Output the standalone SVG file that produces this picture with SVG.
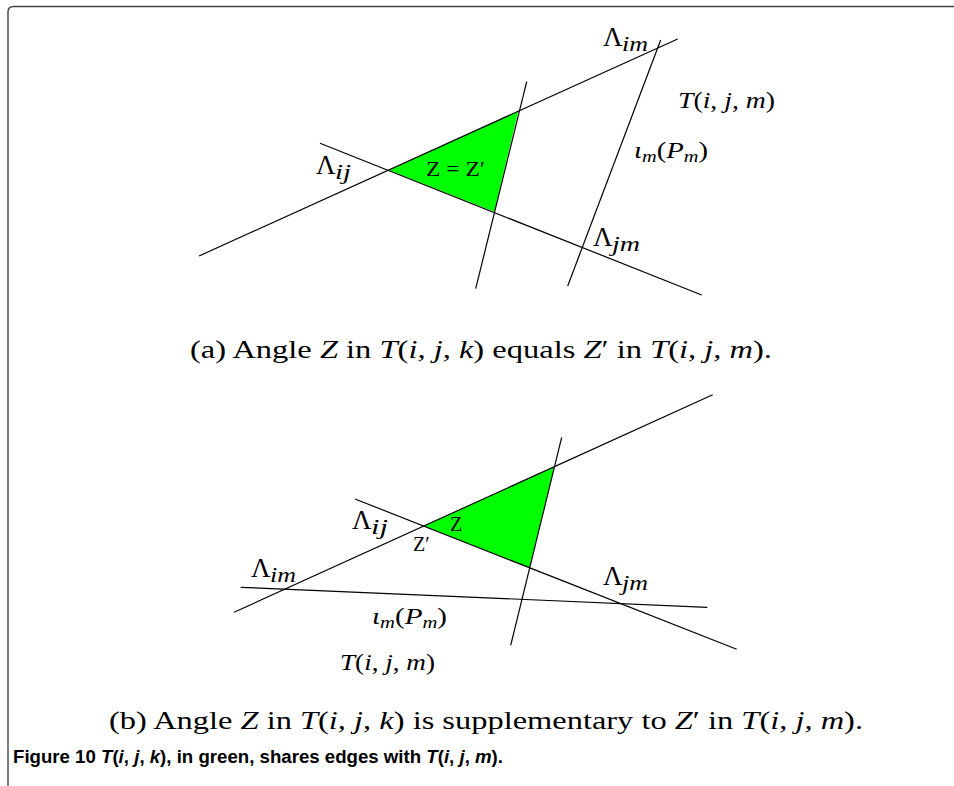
<svg xmlns="http://www.w3.org/2000/svg" width="954" height="786" viewBox="0 0 954 786">
<style>
.ln{stroke:#000;stroke-width:1.2;fill:none}
.tri{fill:#00ff00;stroke:none}
.frame{stroke:#444;stroke-width:1.4;fill:none}
.lam{font-family:"Liberation Serif","DejaVu Serif",serif;font-size:27px;fill:#000}
.sub{font-family:"Liberation Serif","DejaVu Serif",serif;font-size:20px;font-style:italic;fill:#000}
.math{font-family:"Liberation Serif","DejaVu Serif",serif;font-size:24px;fill:#000}
.zl{font-family:"Liberation Serif","DejaVu Serif",serif;font-size:20px;fill:#000}
.cap{font-family:"Liberation Serif","DejaVu Serif",serif;font-size:25px;fill:#000}
.fig{font-family:"Liberation Sans","DejaVu Sans",sans-serif;font-size:18px;font-weight:bold;fill:#000}
.it{font-style:italic}
</style>
<rect x="0" y="0" width="954" height="786" fill="#fff"/>
<path class="frame" d="M8,786 V12 Q8,6.5 13.5,6.5 H954"/>

<g id="panel-a">
  <polygon class="tri" points="389,170.3 518.3,111 494.3,211.7"/>
  <g id="lines-a">
    <line class="ln" x1="199" y1="256" x2="677.7" y2="39"/>
    <line class="ln" x1="320" y1="143.3" x2="701.7" y2="295"/>
    <line class="ln" x1="526.7" y1="81.7" x2="475.7" y2="288.7"/>
    <line class="ln" x1="660.7" y1="40" x2="567.7" y2="286"/>
  </g>
  <g id="labels-a">
    <text class="lam" x="603" y="46">Λ</text><text class="sub" x="622" y="51" textLength="26" lengthAdjust="spacingAndGlyphs">im</text>
    <text class="lam" x="316" y="174">Λ</text><text class="sub" x="335" y="179" textLength="16" lengthAdjust="spacingAndGlyphs">ij</text>
    <text class="lam" x="593" y="246">Λ</text><text class="sub" x="612" y="251" textLength="28" lengthAdjust="spacingAndGlyphs">jm</text>
    <text class="math" x="678" y="108" textLength="97" lengthAdjust="spacingAndGlyphs"><tspan class="it">T</tspan>(<tspan class="it">i</tspan>, <tspan class="it">j</tspan>, <tspan class="it">m</tspan>)</text>
    <text class="math" x="634" y="158" textLength="74" lengthAdjust="spacingAndGlyphs"><tspan class="it">ι</tspan><tspan class="it" font-size="17" dy="4">m</tspan><tspan dy="-4">(</tspan><tspan class="it">P</tspan><tspan class="it" font-size="17" dy="4">m</tspan><tspan dy="-4">)</tspan></text>
    <text class="zl" x="426" y="176" textLength="59" lengthAdjust="spacingAndGlyphs">Z = Z′</text>
  </g>
  <text class="cap" x="190" y="358" textLength="582" lengthAdjust="spacingAndGlyphs">(a) Angle <tspan class="it">Z</tspan> in <tspan class="it">T</tspan>(<tspan class="it">i, j, k</tspan>) equals <tspan class="it">Z</tspan>′ in <tspan class="it">T</tspan>(<tspan class="it">i, j, m</tspan>).</text>
</g>

<g id="panel-b">
  <polygon class="tri" points="424,525.7 554,467.3 529.3,567.7"/>
  <g id="lines-b">
    <line class="ln" x1="234" y1="612.3" x2="712.7" y2="394.7"/>
    <line class="ln" x1="355" y1="499" x2="736.7" y2="649.3"/>
    <line class="ln" x1="561.7" y1="437.3" x2="510.7" y2="645.3"/>
    <line class="ln" x1="240.7" y1="587.3" x2="707.3" y2="607.3"/>
  </g>
  <g id="labels-b">
    <text class="lam" x="352" y="529">Λ</text><text class="sub" x="371" y="534" textLength="17" lengthAdjust="spacingAndGlyphs">ij</text>
    <text class="lam" x="251" y="577">Λ</text><text class="sub" x="270" y="582" textLength="26" lengthAdjust="spacingAndGlyphs">im</text>
    <text class="lam" x="603" y="585">Λ</text><text class="sub" x="622" y="590" textLength="26" lengthAdjust="spacingAndGlyphs">jm</text>
    <text class="zl" x="450" y="531">Z</text>
    <text class="zl" x="413" y="551">Z′</text>
    <text class="math" x="372" y="624" textLength="75" lengthAdjust="spacingAndGlyphs"><tspan class="it">ι</tspan><tspan class="it" font-size="17" dy="4">m</tspan><tspan dy="-4">(</tspan><tspan class="it">P</tspan><tspan class="it" font-size="17" dy="4">m</tspan><tspan dy="-4">)</tspan></text>
    <text class="math" x="340" y="670" textLength="95" lengthAdjust="spacingAndGlyphs"><tspan class="it">T</tspan>(<tspan class="it">i</tspan>, <tspan class="it">j</tspan>, <tspan class="it">m</tspan>)</text>
  </g>
  <text class="cap" x="109" y="729" textLength="754" lengthAdjust="spacingAndGlyphs">(b) Angle <tspan class="it">Z</tspan> in <tspan class="it">T</tspan>(<tspan class="it">i, j, k</tspan>) is supplementary to <tspan class="it">Z</tspan>′ in <tspan class="it">T</tspan>(<tspan class="it">i, j, m</tspan>).</text>
</g>

<text id="figure-caption" class="fig" x="13" y="763" textLength="490" lengthAdjust="spacingAndGlyphs">Figure 10 <tspan class="it">T</tspan>(<tspan class="it">i</tspan>, <tspan class="it">j</tspan>, <tspan class="it">k</tspan>), in green, shares edges with <tspan class="it">T</tspan>(<tspan class="it">i</tspan>, <tspan class="it">j</tspan>, <tspan class="it">m</tspan>).</text>
</svg>
